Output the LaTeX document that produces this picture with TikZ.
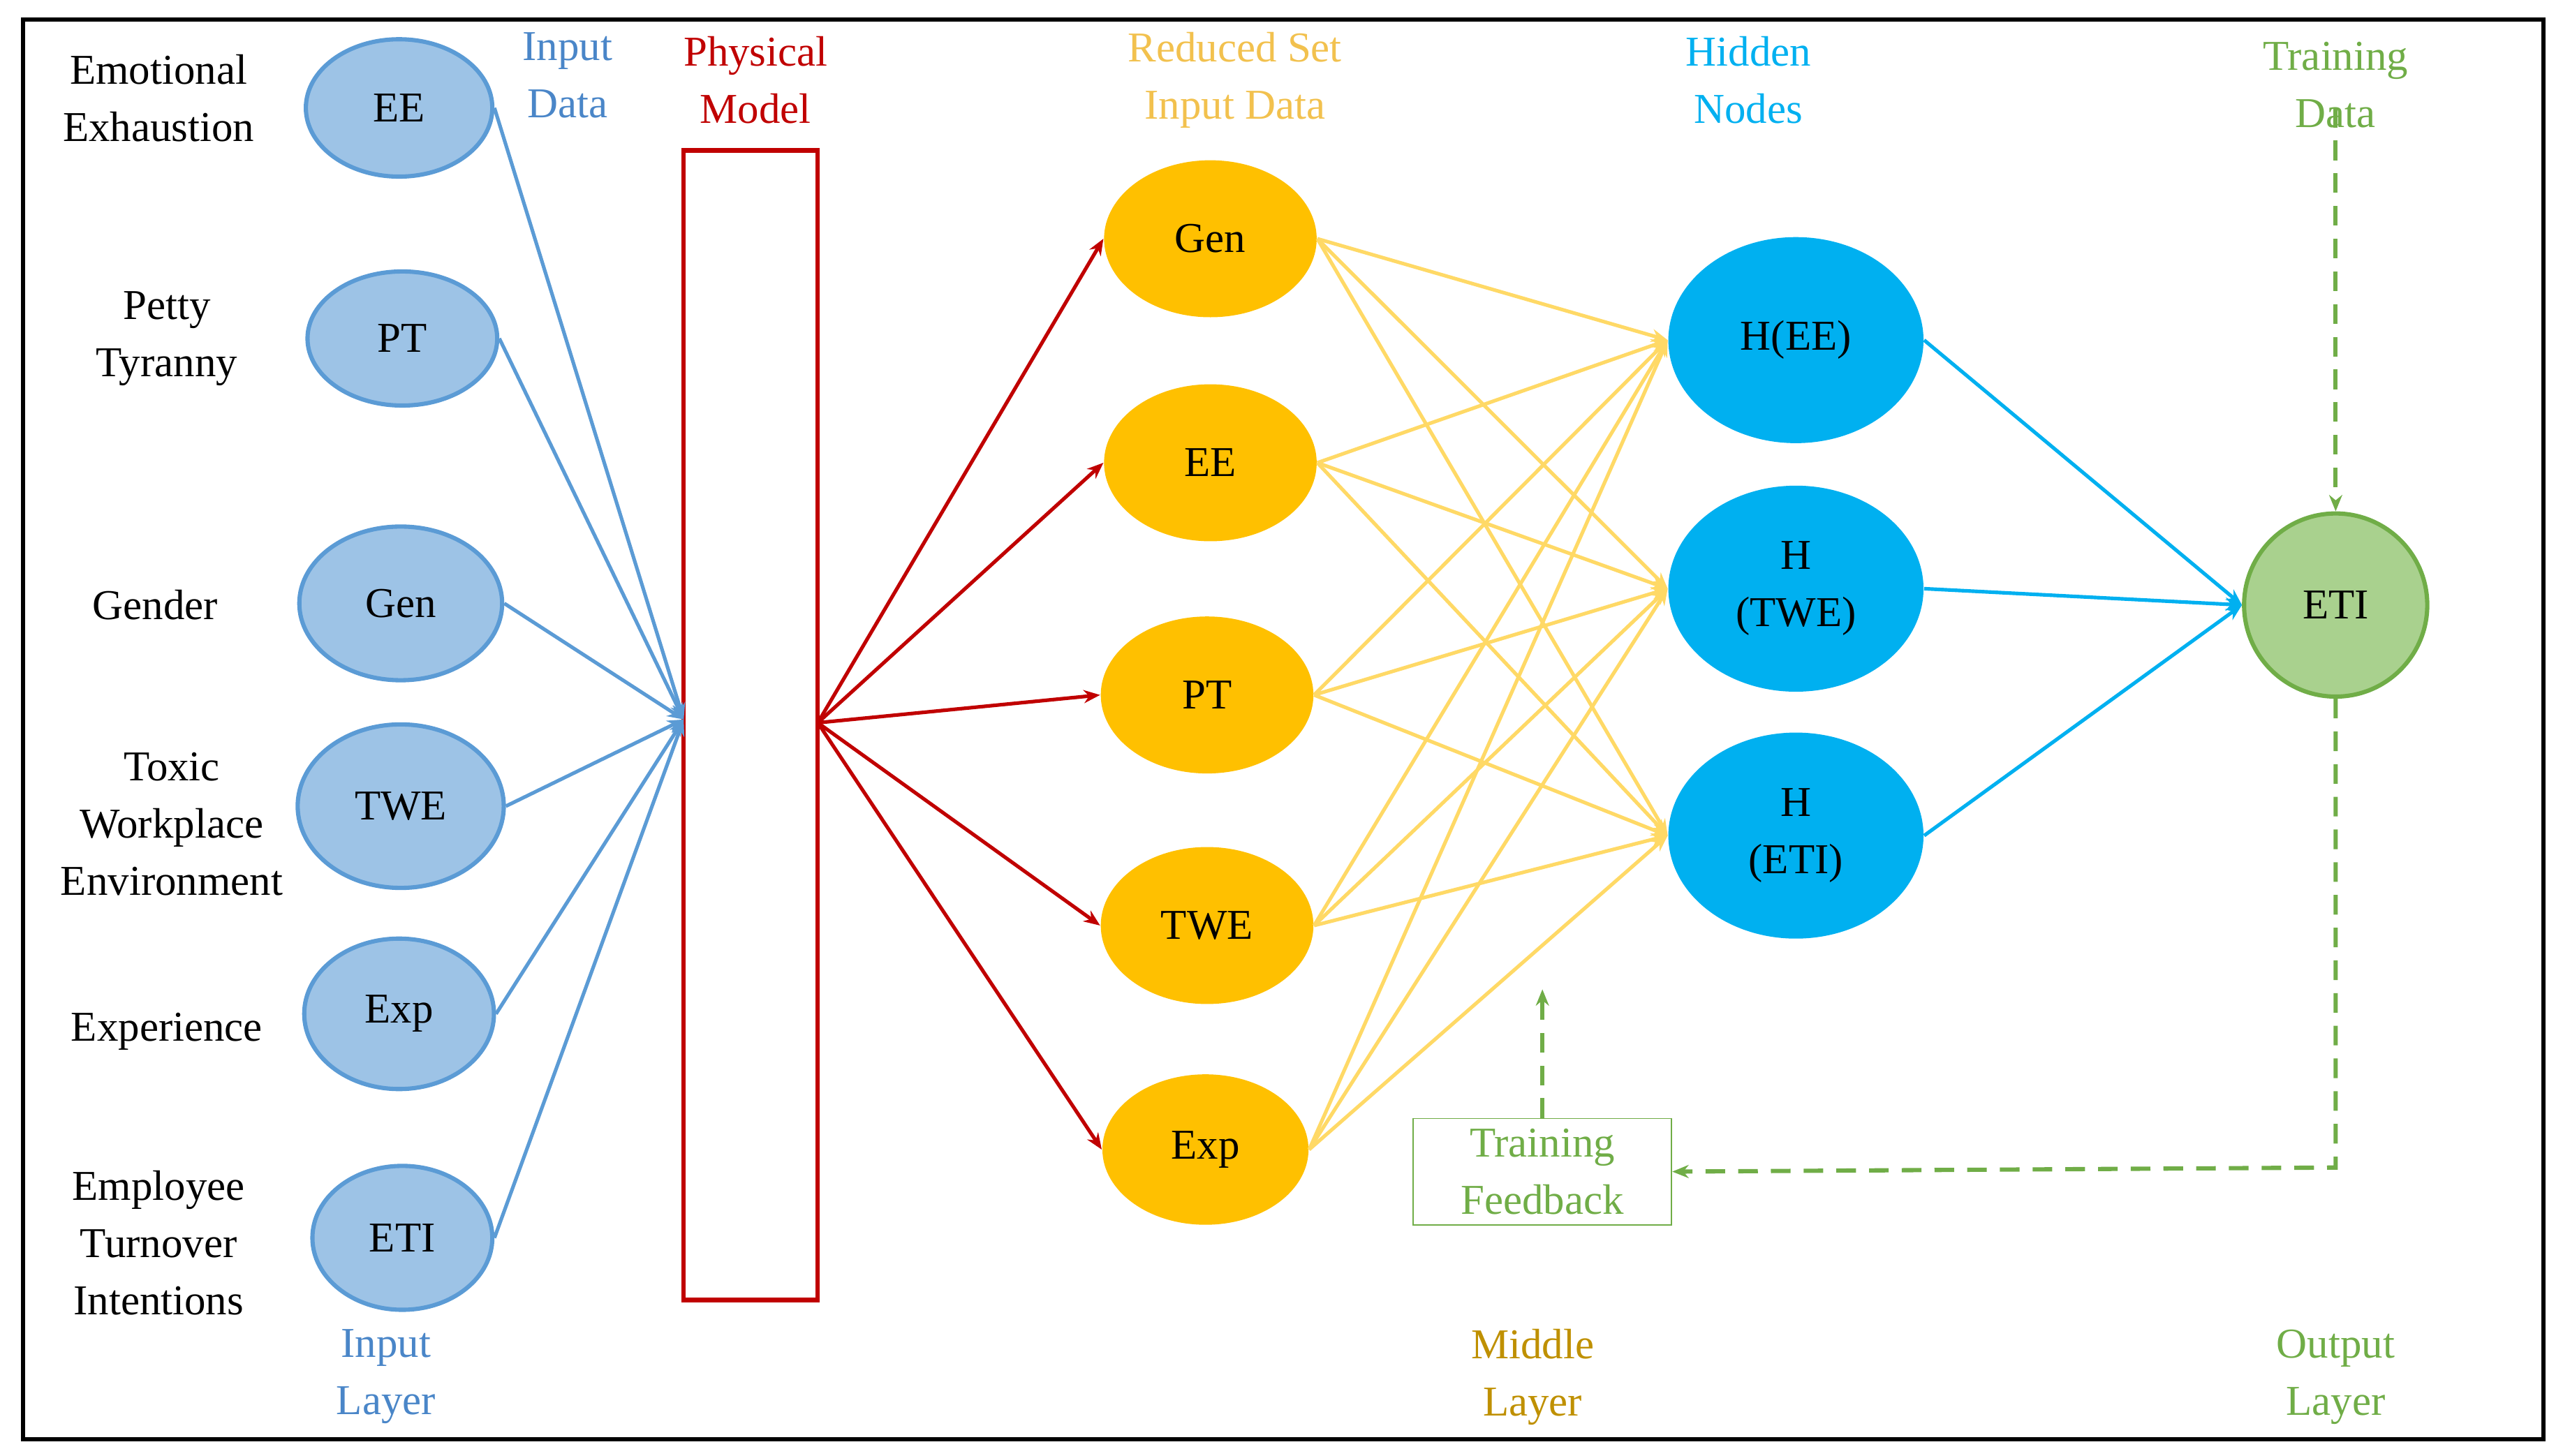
\documentclass[tikz,border=0pt]{standalone}
\usepackage{fontspec}
\setmainfont{Liberation Serif}
\usetikzlibrary{shapes.geometric,arrows.meta}
\definecolor{bfill}{HTML}{9DC3E6}
\definecolor{bline}{HTML}{5B9BD5}
\definecolor{btext}{HTML}{4A86C8}
\definecolor{pred}{HTML}{C00000}
\definecolor{yfill}{HTML}{FFC000}
\definecolor{yline}{HTML}{FFD966}
\definecolor{ytext}{HTML}{F2C14E}
\definecolor{cyanf}{HTML}{00B0F0}
\definecolor{gfill}{HTML}{A9D18E}
\definecolor{gline}{HTML}{70AD47}
\definecolor{mtext}{HTML}{BF9000}
\begin{document}
\begin{tikzpicture}[x=0.5pt,y=-0.5pt,
  every node/.style={font=\fontsize{13}{17.5}\selectfont,align=center},
  inb/.style={ellipse,draw=bline,fill=bfill,line width=1.3pt,inner sep=0pt},
  yel/.style={ellipse,fill=yfill,inner sep=0pt},
  hid/.style={ellipse,fill=cyanf,inner sep=0pt,minimum width=156\pgflinewidth*0+78pt,minimum height=62pt},
  lab/.style={},
  tip/.style={-{Stealth[length=5pt,width=4pt]}},
  ba/.style={tip,draw=bline,line width=1.1pt},
  ra/.style={tip,draw=pred,line width=1.1pt},
  ya/.style={tip,draw=yline,line width=1.1pt},
  ca/.style={tip,draw=cyanf,line width=1.1pt},
  ga/.style={tip,draw=gline,line width=1.3pt,dash pattern=on 6pt off 4pt}]
\useasboundingbox (0,0) rectangle (1567,890);
\draw[line width=1.3pt] (14,12) rectangle (1555,880);
% input ellipses
\node[inb,minimum width=57pt,minimum height=42pt] (iee) at (244,66) {EE};
\node[inb,minimum width=58pt,minimum height=41pt] (ipt) at (246,207) {PT};
\node[inb,minimum width=62pt,minimum height=47pt] (igen) at (245,369) {Gen};
\node[inb,minimum width=63pt,minimum height=50pt] (itwe) at (245,493) {TWE};
\node[inb,minimum width=58pt,minimum height=46pt] (iexp) at (244,620) {Exp};
\node[inb,minimum width=55pt,minimum height=44pt] (ieti) at (246,757) {ETI};
\node (l1) at (97,60) {Emotional\\Exhaustion};
\node (l2) at (102,207) {Petty\\Tyranny};
\node (l3) at (95,370) {Gender};
\node (l4) at (105,504) {Toxic\\Workplace\\Environment};
\node (l5) at (102,631) {Experience};
\node (l6) at (97,760) {Employee\\Turnover\\Intentions};
\node[text=btext] (tin) at (347,46) {Input\\Data};
\node[text=btext] (til) at (236,842) {Input\\Layer};
% physical model
\node[draw=pred,line width=1.3pt,minimum width=41pt,minimum height=351.5pt,inner sep=0pt] (pm) at (459,443.5) {};
\node[text=pred] (pml) at (462,49) {Physical\\Model};
\coordinate (pin) at (418,440);
\coordinate (pout) at (500,442);
\foreach \n in {iee,ipt,igen,itwe,iexp,ieti} \draw[ba] (\n.east) -- (pin);
% yellow
\node[yel,minimum width=65pt,minimum height=48pt] (ygen) at (740,146) {Gen};
\node[yel,minimum width=65pt,minimum height=48pt] (yee) at (740,283) {EE};
\node[yel,minimum width=65pt,minimum height=48pt] (ypt) at (738,425) {PT};
\node[yel,minimum width=65pt,minimum height=48pt] (ytwe) at (738,566) {TWE};
\node[yel,minimum width=63pt,minimum height=46pt] (yexp) at (737,703) {Exp};
\node[text=ytext] (trs) at (755,49) {Reduced Set\\Input Data};
\foreach \n in {ygen,yee,ypt,ytwe,yexp} \draw[ra] (pout) -- (\n.west);
% hidden
\node[ellipse,fill=cyanf,inner sep=0pt,minimum width=78pt,minimum height=63pt] (hee) at (1098,208) {H(EE)};
\node[ellipse,fill=cyanf,inner sep=0pt,minimum width=78pt,minimum height=63pt] (htwe) at (1098,360) {H\\(TWE)};
\node[ellipse,fill=cyanf,inner sep=0pt,minimum width=78pt,minimum height=63pt] (heti) at (1098,511) {H\\(ETI)};
\node[text=cyanf] (thn) at (1069,49) {Hidden\\Nodes};
\foreach \a in {ygen,yee,ypt,ytwe,yexp}
  \foreach \b in {hee,htwe,heti} \draw[ya] (\a.east) -- (\b.west);
% output
\node[circle,draw=gline,fill=gfill,line width=1.3pt,minimum size=56pt,inner sep=0pt] (eti) at (1428,370) {ETI};
\foreach \b in {hee,htwe,heti} \draw[ca] (\b.east) -- (eti.west);
\node[text=gline] (ttd) at (1428,52) {Training\\Data};
\coordinate (tdp) at (1428,66);
\draw[ga] (tdp) -- (eti.north);
\node[draw=gline,text=gline,minimum width=79pt,minimum height=32.5pt,inner sep=0pt] (fb) at (943,716.5) {Training\\Feedback};
\coordinate (corner) at (1428,714);
\coordinate (up) at (943,605);
\draw[ga] (eti.south) -- (corner) -- (fb.east);
\draw[ga] (fb.north) -- (up);
\node[text=mtext] (tml) at (937,842) {Middle\\Layer};
\node[text=gline] (tol) at (1428,842) {Output\\Layer};
\end{tikzpicture}
\end{document}
